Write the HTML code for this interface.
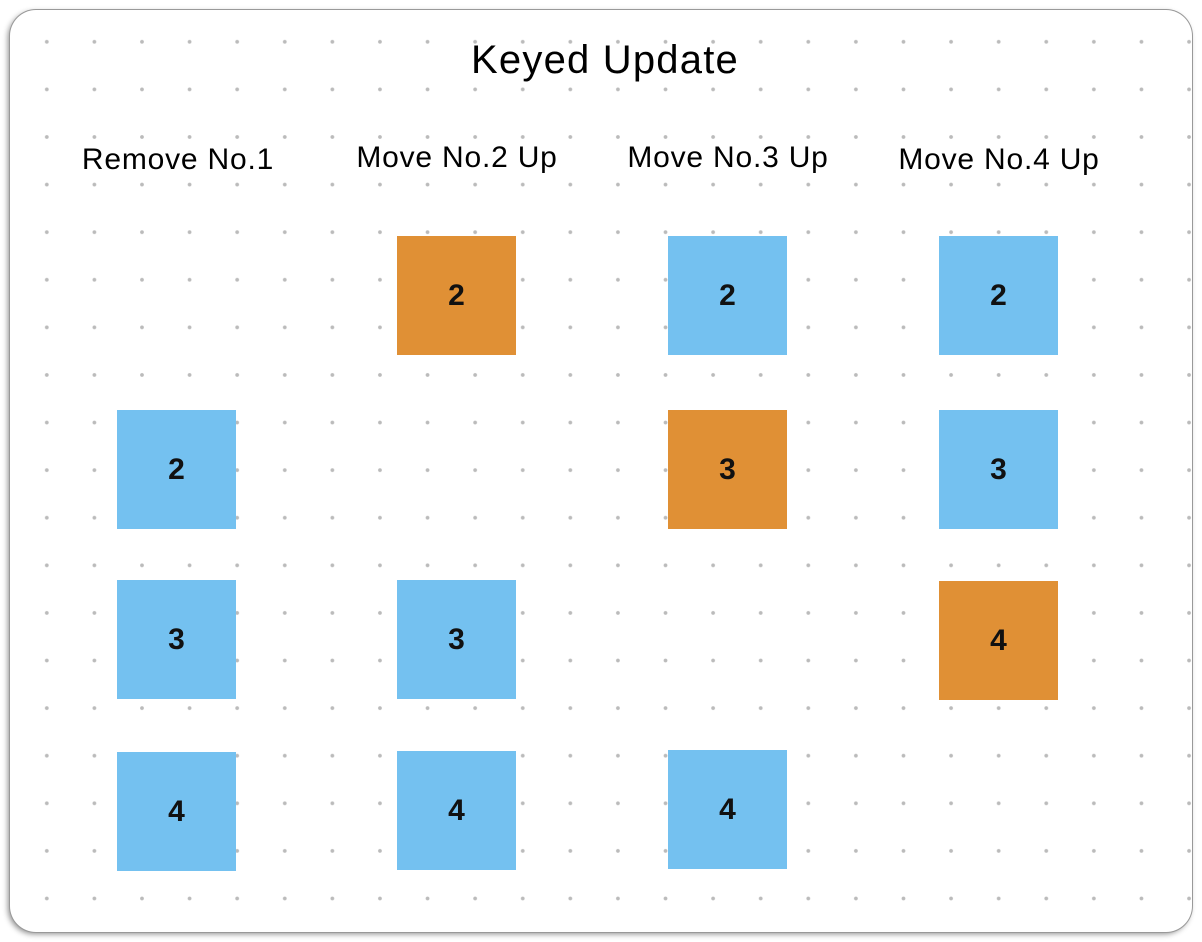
<!DOCTYPE html>
<html><head><style>
body{margin:0;width:1202px;height:942px;background:#fff;position:relative;overflow:hidden;font-family:"Liberation Sans",sans-serif;}
.card{position:absolute;left:10px;top:10px;width:1182px;height:922px;border-radius:26px;background-color:#fff;
background-image:radial-gradient(circle,#bbb 1.6px,transparent 2.2px);background-size:47.6px 47.6px;background-position:13px 8px;
box-shadow:0 0 0 1px #999,-2px 2px 6px rgba(0,0,0,.45);}
.t{position:absolute;color:#000;white-space:nowrap;transform:translateX(-50%);}
.h{font-size:30px;letter-spacing:0.8px;}
.b{position:absolute;width:119px;height:119px;display:flex;align-items:center;justify-content:center;font-size:30px;font-weight:bold;color:#111;background:#74c1f0;}
.o{background:#e09035;}
</style></head><body>
<div class="card"></div>
<div class="t" style="left:605px;top:38px;font-size:40px;letter-spacing:1.2px">Keyed Update</div>
<div class="t h" style="left:178px;top:143px">Remove No.1</div>
<div class="t h" style="left:457px;top:141px">Move No.2 Up</div>
<div class="t h" style="left:728px;top:141px">Move No.3 Up</div>
<div class="t h" style="left:999px;top:143px">Move No.4 Up</div>

<div class="b" style="left:117px;top:410px">2</div>
<div class="b" style="left:117px;top:580px">3</div>
<div class="b" style="left:117px;top:752px">4</div>

<div class="b o" style="left:397px;top:236px">2</div>
<div class="b" style="left:397px;top:580px">3</div>
<div class="b" style="left:397px;top:751px">4</div>

<div class="b" style="left:668px;top:236px">2</div>
<div class="b o" style="left:668px;top:410px">3</div>
<div class="b" style="left:668px;top:750px">4</div>

<div class="b" style="left:939px;top:236px">2</div>
<div class="b" style="left:939px;top:410px">3</div>
<div class="b o" style="left:939px;top:581px">4</div>
</body></html>
